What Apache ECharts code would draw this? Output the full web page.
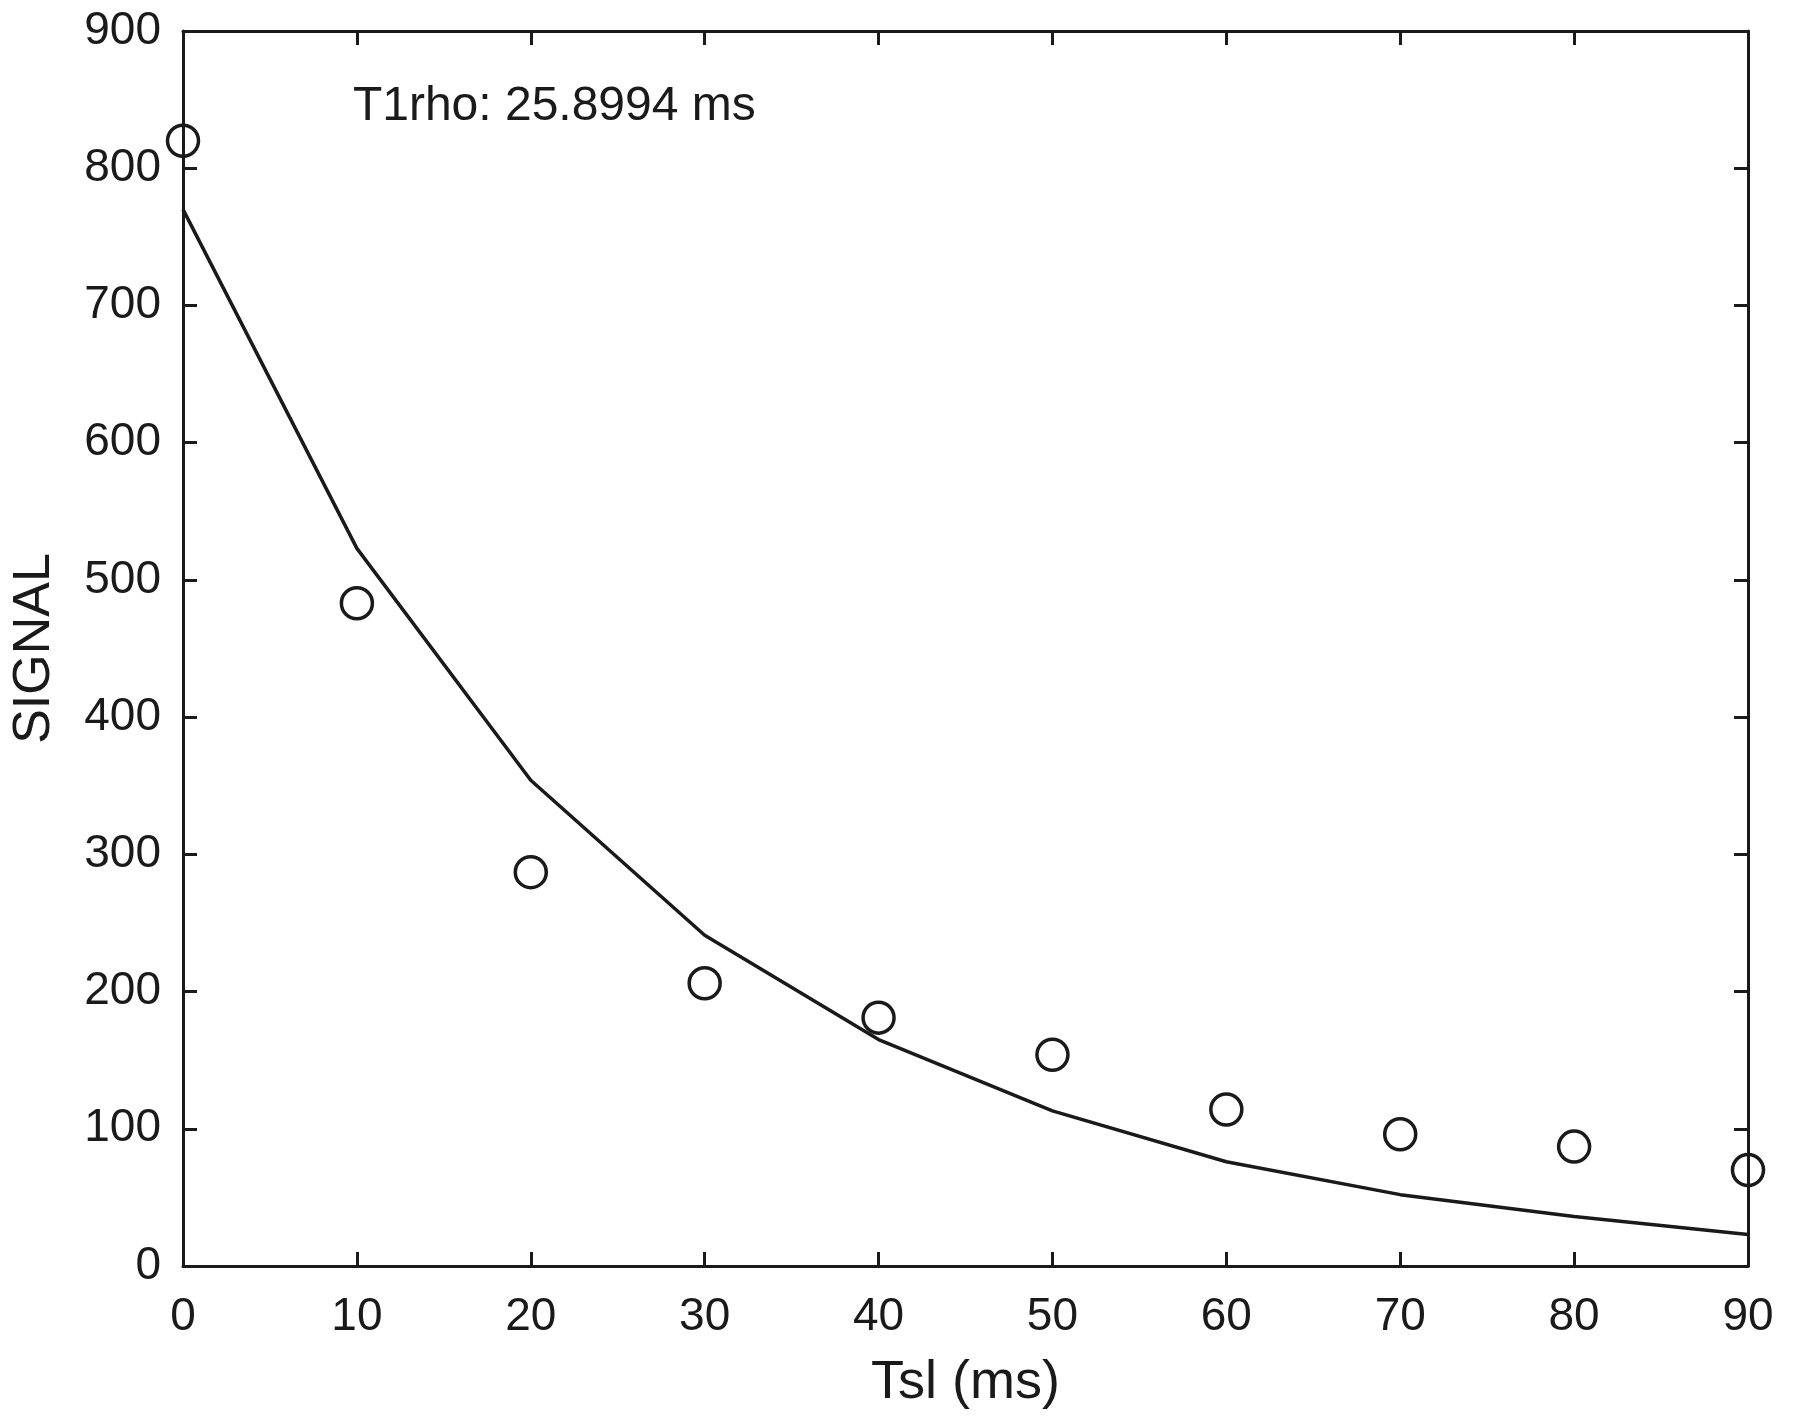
<!DOCTYPE html>
<html>
<head>
<meta charset="utf-8">
<script src="https://cdn.jsdelivr.net/npm/echarts@6/dist/echarts.min.js"></script>
<style>
html,body{margin:0;padding:0;background:#fff;}
#chart{width:1800px;height:1426px;}
</style>
</head>
<body>
<div id="chart"></div>
<script>
// Data
var tslValues = [0, 10, 20, 30, 40, 50, 60, 70, 80, 90];
var measuredSignal = [820, 483, 287, 206, 181, 154, 114, 96, 87, 70];
var fittedSignal = [770, 523, 354, 241, 165, 113, 76, 52, 36, 23];
var annotationText = 'T1rho: 25.8994 ms';
var annotationPos = [10, 845];
var xTitle = 'Tsl (ms)';
var yTitle = 'SIGNAL';

var FONT = 'Liberation Sans, Arial, sans-serif';
var INK = '#1a1a1a';

function pairs(xs, ys) { return xs.map(function (x, i) { return [x, ys[i]]; }); }

var chart = echarts.init(document.getElementById('chart'), null, {renderer: 'canvas'});

var axisLine = {show: true, onZero: false, lineStyle: {color: INK, width: 3}};
var tickIn = {show: true, inside: true, length: 14, lineStyle: {color: INK, width: 3}};

chart.setOption({
  animation: false,
  backgroundColor: '#fff',
  grid: {left: 183, top: 31, right: 52, bottom: 160, containLabel: false},
  xAxis: [{
    type: 'value', min: 0, max: 90, interval: 10,
    position: 'bottom',
    name: xTitle, nameLocation: 'middle', nameGap: 90,
    nameTextStyle: {fontFamily: FONT, fontSize: 54, color: INK},
    axisLine: axisLine, axisTick: tickIn,
    axisLabel: {fontFamily: FONT, fontSize: 46, color: INK, margin: 28},
    splitLine: {show: false}
  }, {
    type: 'value', min: 0, max: 90, interval: 10,
    position: 'top',
    axisLine: axisLine, axisTick: tickIn,
    axisLabel: {show: false}, splitLine: {show: false}
  }],
  yAxis: [{
    type: 'value', min: 0, max: 900, interval: 100,
    position: 'left',
    name: yTitle, nameLocation: 'middle', nameGap: 122, nameRotate: 90,
    nameTextStyle: {fontFamily: FONT, fontSize: 52, color: INK},
    axisLine: axisLine, axisTick: tickIn,
    axisLabel: {fontFamily: FONT, fontSize: 46, color: INK, margin: 22},
    splitLine: {show: false}
  }, {
    type: 'value', min: 0, max: 900, interval: 100,
    position: 'right',
    axisLine: axisLine, axisTick: tickIn,
    axisLabel: {show: false}, splitLine: {show: false}
  }],
  series: [{
    type: 'line',
    data: pairs(tslValues, fittedSignal),
    showSymbol: false,
    symbol: 'none',
    lineStyle: {color: INK, width: 3.5},
    z: 2
  }, {
    type: 'scatter',
    data: pairs(tslValues, measuredSignal),
    symbol: 'circle',
    symbolSize: 31,
    itemStyle: {color: 'rgba(255,255,255,0)', borderColor: INK, borderWidth: 3.5, opacity: 1},
    z: 3
  }, {
    type: 'scatter',
    data: [annotationPos],
    symbolSize: 0,
    silent: true,
    itemStyle: {opacity: 1},
    label: {
      show: true,
      position: [0, 0],
      offset: [-4, 0],
      align: 'left',
      verticalAlign: 'middle',
      formatter: annotationText,
      fontFamily: FONT,
      fontSize: 48,
      color: INK
    },
    z: 4
  }]
});
</script>
</body>
</html>
